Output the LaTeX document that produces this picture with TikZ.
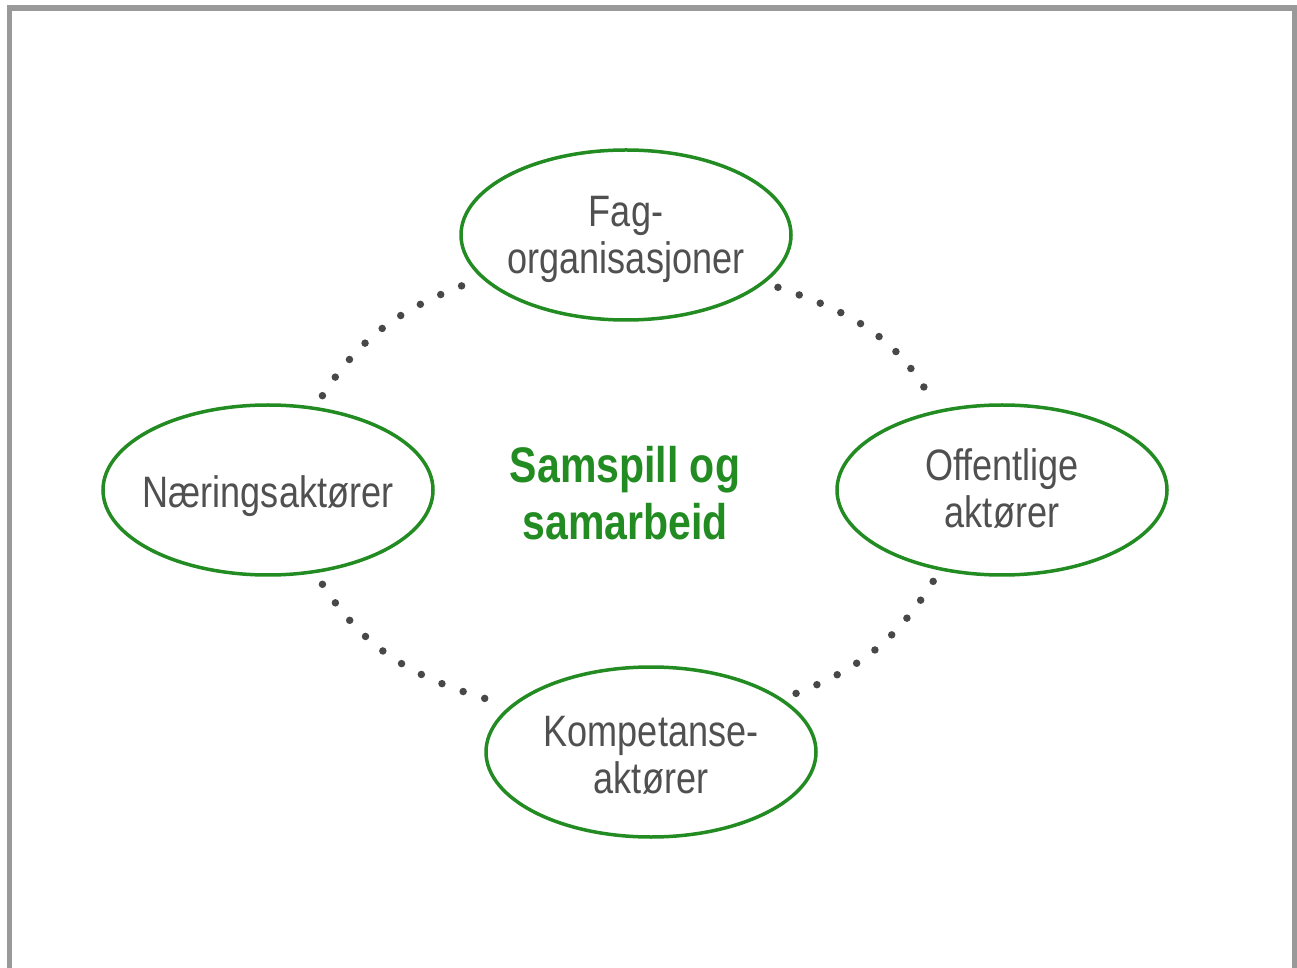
\documentclass[tikz,border=0pt]{standalone}
\usepackage{fontspec}
\setmainfont{Liberation Sans}
\newfontfamily\narrowfont[FakeStretch=0.82]{Liberation Sans}
\usetikzlibrary{shapes.geometric}
\definecolor{framegray}{RGB}{153,153,153}
\definecolor{leafgreen}{RGB}{34,139,34}
\definecolor{textgray}{RGB}{80,80,80}
\definecolor{dotgray}{RGB}{72,72,72}
\begin{document}
\begin{tikzpicture}[x=1pt,y=1pt,
  actor/.style={ellipse, draw=leafgreen, line width=3.5pt, minimum width=330pt,
    minimum height=170pt, inner sep=0pt, outer sep=14pt},
  actortext/.style={text=textgray, inner sep=0pt, anchor=base,
    font=\narrowfont\fontsize{44}{47}\selectfont, align=center},
  link/.style={draw=dotgray, line width=7.5pt, line cap=round,
    dash pattern=on 0pt off 22.6pt},
  title/.style={text=leafgreen, font=\narrowfont\bfseries\fontsize{50}{57}\selectfont,
    align=center, inner sep=0pt, anchor=base}]
\useasboundingbox (0,0) rectangle (1297,967);
\draw[framegray, line width=5.5pt] (9.3,-10) -- (9.3,959) -- (1294.5,959) -- (1294.5,-10);

\node[actor] (fag) at (626,732) {};
\node[actor] (naering) at (268,477) {};
\node[actor] (offentlige) at (1002,477) {};
\node[actor] (kompetanse) at (651,215) {};

\node[actortext] (fagtext) at (626,693) {Fag-\\organisasjoner};
\node[actortext] (naeringtext) at (268,459) {Næringsaktører};
\node[actortext] (offentligetext) at (1002,439) {Offentlige\\aktører};
\node[actortext] (kompetansetext) at (651,174) {Kompetanse-\\aktører};
\node[title] (samspill) at (625,427) {Samspill og\\samarbeid};

\draw[link] (naering.60) to[out=57, in=200.7] (fag.197.6);
\draw[link] (fag.341.5) to[out=-19, in=119] (offentlige.128);
\draw[link] (offentlige.233) to[out=238, in=21.3] (kompetanse.22.6);
\draw[link] (naering.300) to[out=303, in=164.4] (kompetanse.162);
\end{tikzpicture}
\end{document}
